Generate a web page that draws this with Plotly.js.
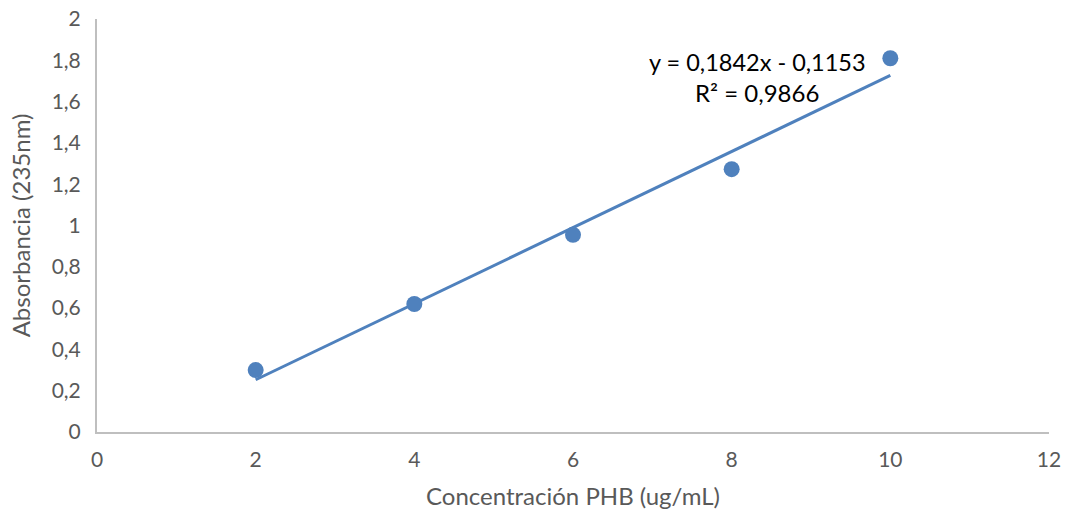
<!DOCTYPE html>
<html>
<head>
<meta charset="utf-8">
<script src="https://cdn.plot.ly/plotly-3.0.1.min.js"></script>
<style>html,body{margin:0;padding:0;background:#fff;}#chart{width:1065px;height:514px;}</style>
</head>
<body>
<div id="chart"></div>
<script>
const concentracion = [2, 4, 6, 8, 10];
const absorbancia = [0.30, 0.62, 0.955, 1.273, 1.81];
const slope = 0.1842;
const intercept = -0.1153;
const r2 = 0.9866;
const xTicks = [0, 2, 4, 6, 8, 10, 12];
const yTicks = [0, 0.2, 0.4, 0.6, 0.8, 1, 1.2, 1.4, 1.6, 1.8, 2];

const trendX = [concentracion[0], concentracion[concentracion.length - 1]];
const trendY = trendX.map(x => slope * x + intercept);

const fmt = v => String(v).replace('.', ',');
const eqText = 'y = ' + fmt(slope) + 'x - ' + fmt(Math.abs(intercept));
const r2Text = 'R² = ' + fmt(r2);

const font = 'Lato, "Open Sans", sans-serif';
const blue = '#4F81BD';

const data = [
  {x: trendX, y: trendY, mode: 'lines', type: 'scatter',
   line: {color: blue, width: 3}, hoverinfo: 'skip'},
  {x: concentracion, y: absorbancia, mode: 'markers', type: 'scatter',
   marker: {color: blue, size: 16}}
];

const layout = {
  width: 1065, height: 514,
  margin: {l: 97, r: 16, t: 19, b: 82},
  paper_bgcolor: '#fff', plot_bgcolor: '#fff',
  showlegend: false,
  separators: ',.',
  font: {family: font, size: 21, color: '#595959'},
  xaxis: {
    range: [0, 12], tickvals: xTicks, ticktext: xTicks.map(fmt),
    showgrid: false, zeroline: false, showline: true, linecolor: '#BFBFBF', linewidth: 2,
    ticks: '', ticklabelstandoff: 8,
    tickfont: {family: font, size: 21, color: '#595959'},
    title: {text: 'Concentración PHB (ug/mL)', font: {family: font, size: 24, color: '#595959'}, standoff: 18}
  },
  yaxis: {
    range: [0, 2], tickvals: yTicks, ticktext: yTicks.map(fmt),
    showgrid: false, zeroline: false, showline: true, linecolor: '#BFBFBF', linewidth: 2,
    ticks: '', ticklabelstandoff: 10,
    tickfont: {family: font, size: 21, color: '#595959'},
    title: {text: 'Absorbancia (235nm)', font: {family: font, size: 24, color: '#595959'}, standoff: 14}
  },
  annotations: [
    {xref: 'paper', yref: 'paper', x: (757 - 97) / 952, y: (432 - 62) / 413,
     text: eqText, showarrow: false, font: {family: font, size: 23.5, color: '#000'}, xanchor: 'center', yanchor: 'middle'},
    {xref: 'paper', yref: 'paper', x: (757 - 97) / 952, y: (432 - 93) / 413,
     text: r2Text, showarrow: false, font: {family: font, size: 24, color: '#000'}, xanchor: 'center', yanchor: 'middle'}
  ]
};

Plotly.newPlot('chart', data, layout, {displayModeBar: false, staticPlot: true});
</script>
</body>
</html>
